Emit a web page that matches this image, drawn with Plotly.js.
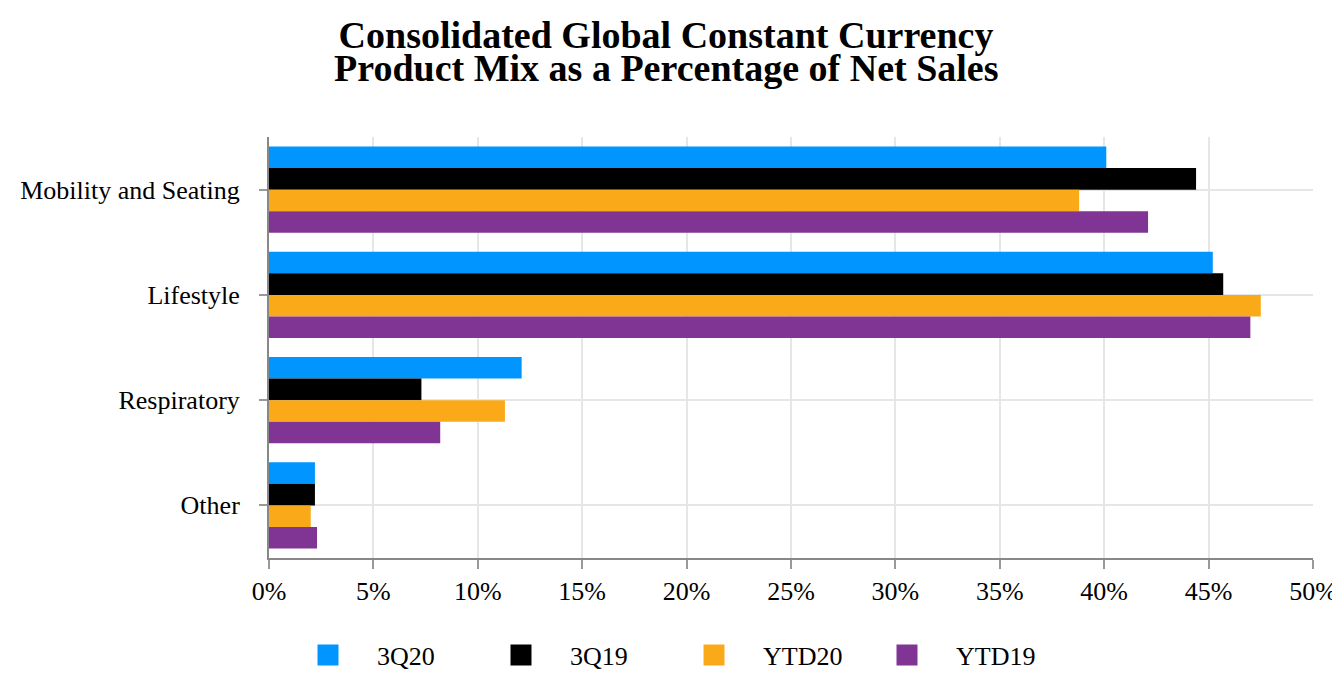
<!DOCTYPE html>
<html>
<head>
<meta charset="utf-8">
<script src="https://cdn.plot.ly/plotly-3.0.1.min.js"></script>
<style>html,body{margin:0;padding:0;background:#fff;}#chart{width:1332px;height:700px;}</style>
</head>
<body>
<div id="chart"></div>
<script>
const titleLines = ["Consolidated Global Constant Currency", "Product Mix as a Percentage of Net Sales"];
const categories = ["Mobility and Seating", "Lifestyle", "Respiratory", "Other"];
const seriesNames = ["3Q20", "3Q19", "YTD20", "YTD19"];
const s3Q20 = [40.1, 45.2, 12.1, 2.2];
const s3Q19 = [44.4, 45.7, 7.3, 2.2];
const sYTD20 = [38.8, 47.5, 11.3, 2.0];
const sYTD19 = [42.1, 47.0, 8.2, 2.3];
const xTickVals = [0, 5, 10, 15, 20, 25, 30, 35, 40, 45, 50];
const xTickText = xTickVals.map(v => v + '%');

const colors = ["#0095FF", "#000000", "#FAAA19", "#803594"];
const values = [s3Q20, s3Q19, sYTD20, sYTD19];

const bars = values.map((v, i) => ({
  type: 'bar',
  orientation: 'h',
  name: seriesNames[i],
  legendgroup: seriesNames[i],
  showlegend: false,
  y: categories,
  x: v,
  marker: {color: colors[i]},
  hoverinfo: 'x+name'
}));

// legend entries (larger square swatches than the default bar legend symbol)
const legendProxies = seriesNames.map((n, i) => ({
  type: 'scatter',
  mode: 'markers',
  name: n,
  legendgroup: n,
  x: [null], y: [null],
  marker: {symbol: 'square', size: 16, color: colors[i], line: {width: 5, color: colors[i]}},
  hoverinfo: 'skip'
}));

const font = {family: '"Liberation Serif", "Times New Roman", serif', color: '#000'};

const layout = {
  width: 1332, height: 700,
  paper_bgcolor: '#fff', plot_bgcolor: '#fff',
  margin: {l: 269, r: 19, t: 137, b: 142},
  barmode: 'group',
  bargap: 0.18,
  bargroupgap: 0,
  font: Object.assign({size: 26}, font),
  title: {
    text: '<b>' + titleLines[0] + '</b>',
    font: Object.assign({size: 38}, font),
    x: 0.5, xref: 'container', xanchor: 'center',
    y: 0.969, yref: 'container', yanchor: 'top'
  },
  annotations: [{
    text: '<b>' + titleLines[1] + '</b>',
    font: Object.assign({size: 38}, font),
    showarrow: false,
    xref: 'paper', x: (666 - 269) / 1044, xanchor: 'center',
    yref: 'paper', y: 1.218, yanchor: 'top'
  }],
  xaxis: {
    range: [0, 50],
    tickvals: xTickVals,
    ticktext: xTickText,
    ticklabeloverflow: 'allow',
    showgrid: true, gridcolor: '#e6e6e6', gridwidth: 2,
    showline: true, linecolor: '#888', linewidth: 2,
    ticks: 'outside', ticklen: 9, tickcolor: '#999', tickwidth: 2,
    zeroline: false,
    tickfont: Object.assign({size: 26}, font)
  },
  yaxis: {
    autorange: 'reversed',
    showgrid: true, gridcolor: '#e6e6e6', gridwidth: 2,
    showline: true, linecolor: '#888', linewidth: 2,
    ticks: 'outside', ticklen: 8, tickcolor: '#999', tickwidth: 2,
    tickfont: Object.assign({size: 26}, font),
    ticklabelstandoff: 14
  },
  legend: {
    orientation: 'h',
    x: 279 / 1332, xref: 'container', xanchor: 'left',
    y: 45 / 700, yref: 'container', yanchor: 'middle',
    font: Object.assign({size: 26}, font),
    itemwidth: 88,
    entrywidth: 90,
    traceorder: 'normal',
    itemsizing: 'trace'
  },
  showlegend: true
};

Plotly.newPlot('chart', bars.concat(legendProxies), layout, {displayModeBar: false, staticPlot: true});
</script>
</body>
</html>
